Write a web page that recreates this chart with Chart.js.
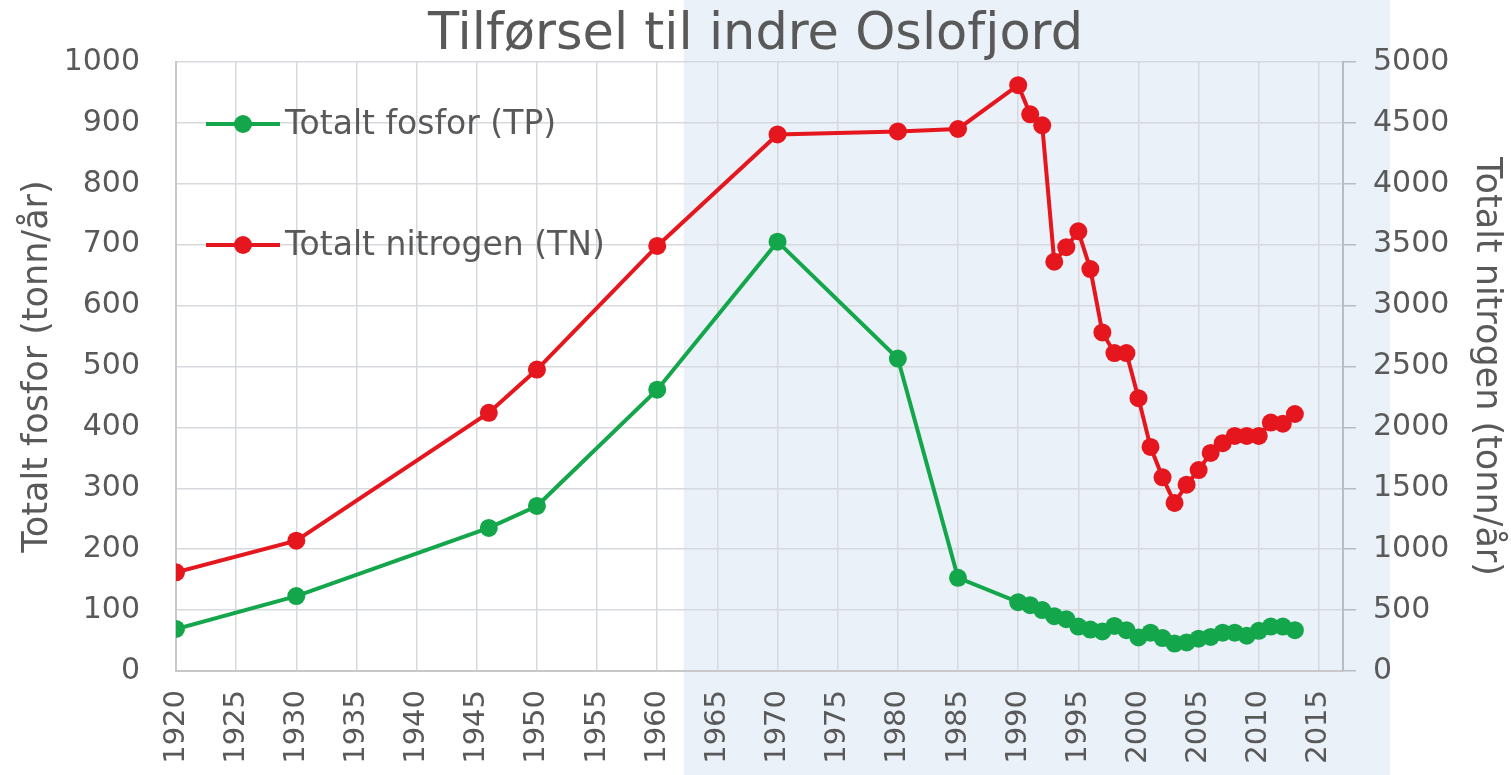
<!DOCTYPE html>
<html>
<head>
<meta charset="utf-8">
<script src="https://cdn.jsdelivr.net/npm/chart.js@4.4.0/dist/chart.umd.min.js"></script>
<style>
html, body { margin: 0; padding: 0; background: #fff; }
#wrap { width: 1511px; height: 775px; }
</style>
</head>
<body>
<div id="wrap"><canvas id="fjordChart"></canvas></div>
<script>
// years with measurements
const years = [
    1920, 1930, 1946, 1950, 1960, 1970, 1980, 1985,
    1990, 1991, 1992, 1993, 1994, 1995, 1996, 1997, 1998, 1999,
    2000, 2001, 2002, 2003, 2004, 2005, 2006, 2007, 2008, 2009,
    2010, 2011, 2012, 2013
];
// Totalt fosfor, tonn/år (left axis)
const phosphorus = [
    69, 123, 235, 271, 462, 705, 513, 153,
    113, 108, 100, 90, 85, 73, 68, 65, 74, 67,
    55, 63, 54, 45, 47, 53, 56, 63, 63, 58,
    66, 73, 73, 67
];
// Totalt nitrogen, tonn/år (right axis)
const nitrogen = [
    810, 1070, 2120, 2475, 3490, 4405, 4430, 4450,
    4810, 4570, 4480, 3360, 3480, 3610, 3300, 2780, 2610, 2610,
    2240, 1840, 1590, 1380, 1530, 1650, 1790, 1870, 1930, 1930,
    1930, 2040, 2030, 2110
];
const xTickStep = 5;
const leftTickStep = 100;
const rightTickStep = 500;

const greyText = '#595959';
const green = '#14a64b';
const red = '#e5161d';

const toPoints = vals => years.map((y, i) => ({ x: y, y: vals[i] }));

// light blue band behind the later period
const shadePlugin = {
    id: 'shade',
    beforeDraw(chart) {
        const { ctx, chartArea, scales } = chart;
        const x0 = scales.x.getPixelForValue(1962.2);
        ctx.save();
        ctx.fillStyle = 'rgb(234, 241, 249)';
        ctx.fillRect(x0, 0, chartArea.right + 47 - x0, chart.height);
        ctx.restore();
    }
};

// legend drawn inside the plot, one item per gridline
const innerLegend = {
    id: 'innerLegend',
    afterDatasetsDraw(chart) {
        const { ctx, chartArea } = chart;
        const rows = [62, 183];
        ctx.save();
        chart.data.datasets.forEach((ds, i) => {
            const y = chartArea.top + rows[i];
            const x = chartArea.left + 30;
            ctx.strokeStyle = ds.borderColor;
            ctx.lineWidth = 4;
            ctx.beginPath();
            ctx.moveTo(x, y);
            ctx.lineTo(x + 74, y);
            ctx.stroke();
            ctx.fillStyle = ds.borderColor;
            ctx.beginPath();
            ctx.arc(x + 37, y, 9, 0, Math.PI * 2);
            ctx.fill();
            ctx.fillStyle = greyText;
            ctx.font = '33px "DejaVu Sans"';
            ctx.textBaseline = 'middle';
            ctx.fillText(ds.label, x + 79, y + 1);
        });
        ctx.restore();
    }
};

const ctx = document.getElementById('fjordChart').getContext('2d');

const fjordChart = new Chart(ctx, {
    type: 'line',
    data: {
        datasets: [{
            label: 'Totalt fosfor (TP)',
            data: toPoints(phosphorus),
            yAxisID: 'yP',
            borderColor: green,
            backgroundColor: green,
            borderWidth: 4,
            pointRadius: 9,
            pointHoverRadius: 9,
            pointBorderWidth: 0,
            tension: 0
        }, {
            label: 'Totalt nitrogen (TN)',
            data: toPoints(nitrogen),
            yAxisID: 'yN',
            borderColor: red,
            backgroundColor: red,
            borderWidth: 4,
            pointRadius: 9,
            pointHoverRadius: 9,
            pointBorderWidth: 0,
            tension: 0
        }]
    },
    options: {
        responsive: true,
        maintainAspectRatio: false,
        animation: false,
        layout: { padding: 0 },
        plugins: {
            legend: { display: false },
            tooltip: { enabled: false },
            title: {
                display: true,
                text: 'Tilførsel til indre Oslofjord',
                color: greyText,
                font: { family: 'DejaVu Sans', size: 51, weight: 'normal', lineHeight: 1.0 },
                padding: { top: 10, bottom: 1 }
            }
        },
        scales: {
            x: {
                type: 'linear',
                min: 1920,
                max: 2017,
                afterFit(scale) { scale.height = 104; },
                border: { color: '#c8c8c8', width: 2 },
                grid: { color: '#d6d9de', lineWidth: 1.5, drawTicks: false },
                ticks: {
                    stepSize: xTickStep,
                    includeBounds: false,
                    autoSkip: false,
                    maxRotation: 90,
                    minRotation: 90,
                    padding: 19,
                    color: greyText,
                    font: { family: 'DejaVu Sans', size: 29 },
                    callback: v => String(v)
                }
            },
            yP: {
                position: 'left',
                min: 0,
                max: 1000,
                afterFit(scale) { scale.width = 176; },
                border: { color: '#c8c8c8', width: 2 },
                grid: { color: '#d6d9de', lineWidth: 1.5, drawTicks: false },
                ticks: {
                    stepSize: leftTickStep,
                    padding: 36,
                    color: greyText,
                    font: { family: 'DejaVu Sans', size: 30 },
                    callback: v => String(v)
                },
                title: {
                    display: true,
                    text: 'Totalt fosfor (tonn/år)',
                    color: greyText,
                    font: { family: 'DejaVu Sans', size: 35 },
                    padding: { top: 17, bottom: 0 }
                }
            },
            yN: {
                position: 'right',
                min: 0,
                max: 5000,
                afterFit(scale) { scale.width = 168; },
                border: { color: '#b8bcc4', width: 2 },
                grid: { drawOnChartArea: false, color: '#b8bcc4', tickLength: 13, lineWidth: 1.5 },
                ticks: {
                    stepSize: rightTickStep,
                    padding: 17,
                    color: greyText,
                    font: { family: 'DejaVu Sans', size: 30 },
                    callback: v => String(v)
                },
                title: {
                    display: true,
                    text: 'Totalt nitrogen (tonn/år)',
                    color: greyText,
                    font: { family: 'DejaVu Sans', size: 35 },
                    padding: { top: 4, bottom: 0 }
                }
            }
        }
    },
    plugins: [shadePlugin, innerLegend]
});
</script>
</body>
</html>
